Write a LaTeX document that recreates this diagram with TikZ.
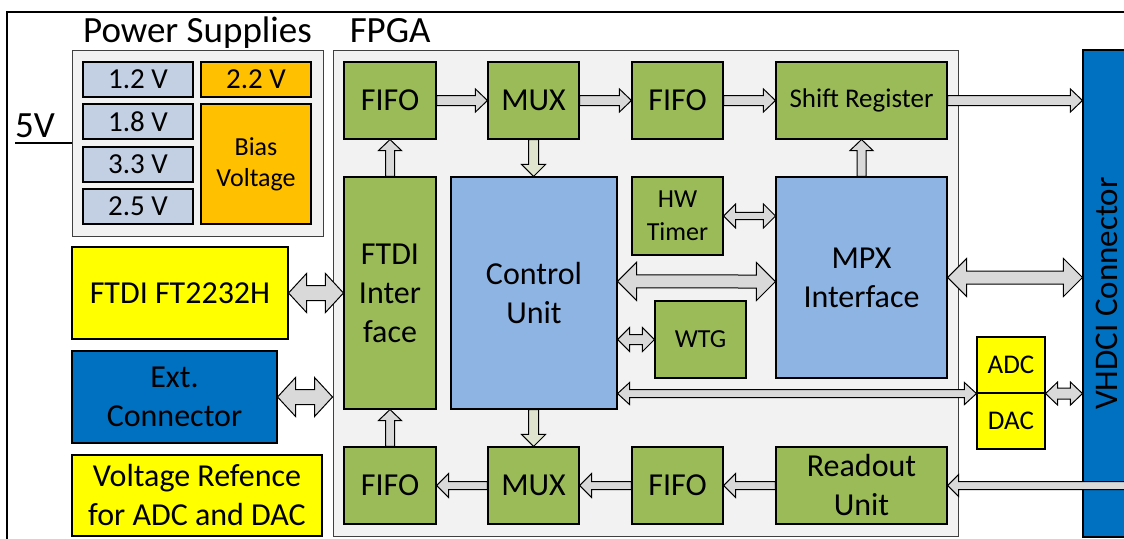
\documentclass[tikz,border=0pt]{standalone}
\usepackage{fontspec}
\setmainfont{Carlito}
\usetikzlibrary{calc}

\definecolor{logicgreen}{RGB}{155,187,89}
\definecolor{coreblue}{RGB}{142,180,227}
\definecolor{railblue}{RGB}{195,208,227}
\definecolor{biasorange}{RGB}{255,192,0}
\definecolor{chipyellow}{RGB}{255,255,0}
\definecolor{connblue}{RGB}{0,112,192}
\definecolor{groupgray}{RGB}{242,242,242}
\definecolor{busgray}{RGB}{217,217,217}
\definecolor{buspale}{RGB}{222,228,206}

% block arrow, one head:  [fill]{from}{to}{half shaft}{half head}{head length}
\newcommand{\onewaybus}[6][busgray]{%
  \coordinate (busA) at #2;
  \coordinate (busB) at #3;
  \coordinate (busC) at ($(busB)!#6pt!(busA)$);
  \filldraw[busline, fill=#1]
    ($(busA)!#4pt!90:(busB)$) -- ($(busC)!#4pt!-90:(busA)$)
    -- ($(busC)!#5pt!-90:(busA)$) -- (busB)
    -- ($(busC)!#5pt!90:(busA)$) -- ($(busC)!#4pt!90:(busA)$)
    -- ($(busA)!#4pt!-90:(busB)$) -- cycle;
}
% block arrow, heads at both ends
\newcommand{\twowaybus}[6][busgray]{%
  \coordinate (busA) at #2;
  \coordinate (busB) at #3;
  \coordinate (busC) at ($(busA)!#6pt!(busB)$);
  \coordinate (busD) at ($(busB)!#6pt!(busA)$);
  \filldraw[busline, fill=#1] (busA)
    -- ($(busC)!#5pt!90:(busB)$) -- ($(busC)!#4pt!90:(busB)$)
    -- ($(busD)!#4pt!-90:(busA)$) -- ($(busD)!#5pt!-90:(busA)$)
    -- (busB)
    -- ($(busD)!#5pt!90:(busA)$) -- ($(busD)!#4pt!90:(busA)$)
    -- ($(busC)!#4pt!-90:(busB)$) -- ($(busC)!#5pt!-90:(busB)$)
    -- cycle;
}

\begin{document}
\begin{tikzpicture}[x=1pt, y=-1pt,
    box/.style ={draw, line width=1.1pt, inner sep=0pt, align=center},
    logic/.style ={box, fill=logicgreen, font=\fontsize{32}{39}\selectfont},
    core/.style ={box, fill=coreblue, font=\fontsize{32}{39}\selectfont},
    rail/.style ={box, fill=railblue, minimum width=110pt, minimum height=35pt,
                  font=\fontsize{29}{34}\selectfont},
    group/.style ={draw=black!75, line width=0.9pt, fill=groupgray, inner sep=0pt},
    heading/.style ={inner sep=0pt, font=\fontsize{37}{42}\selectfont},
    busline/.style ={draw, line width=1pt, line join=miter}]
   \useasboundingbox (0,0) rectangle (1124,538);

   % board outline
   \draw[line width=1.2pt] (7,560) -- (7,12) -- (1140,12);

   % power supplies
   \node[group, minimum width=251pt, minimum height=186pt] (psu) at (197.5,143) {};
   \node[heading, anchor=base] (psutitle) at ([yshift=7pt]psu.north) {Power Supplies};
   \node[rail] (v12) at (138,79.5)  {1.2 V};
   \node[rail] (v18) at (138,121.5) {1.8 V};
   \node[rail] (v33) at (138,164.5) {3.3 V};
   \node[rail] (v25) at (138,206.5) {2.5 V};
   \node[rail, fill=biasorange] (v22) at (256,79.5) {2.2 V};
   \node[box, fill=biasorange, minimum width=110pt, minimum height=120pt,
         font=\fontsize{26}{31}\selectfont] (bias) at (256,164) {Bias\\Voltage};
   \node[heading, anchor=base west] (vin) at (15,137) {5V};
   \draw[line width=1.2pt] (vin.base west |- psu.west) -- (psu.west);

   % FPGA
   \node[group, minimum width=625pt, minimum height=486pt] (fpga) at (645.5,293) {};
   \node[heading, anchor=base west] (fpgatitle) at ([xshift=17pt,yshift=7pt]fpga.north west) {FPGA};

   \node[logic, minimum width=92pt, minimum height=77pt] (fifoA) at (390,100.5) {FIFO};
   \node[logic, minimum width=91pt, minimum height=77pt] (muxA) at (533.5,100.5) {MUX};
   \node[logic, minimum width=91pt, minimum height=77pt] (fifoB) at (677.5,100.5) {FIFO};
   \node[logic, minimum width=171pt, minimum height=77pt,
         font=\fontsize{27}{32}\selectfont] (shift) at (861.5,100.5) {Shift Register};

   \node[logic, minimum width=92pt, minimum height=232pt] (ftdi) at (390,293) {FTDI\\Inter\\face};
   \node[core, minimum width=166pt, minimum height=232pt] (ctrl) at (534,293) {Control\\Unit};
   \node[logic, minimum width=91pt, minimum height=78pt,
         font=\fontsize{26}{33}\selectfont] (timer) at (677.5,216) {HW\\Timer};
   \node[logic, minimum width=91pt, minimum height=77pt,
         font=\fontsize{26}{33}\selectfont] (wtg) at (700.5,339.5) {WTG};
   \node[core, minimum width=171pt, minimum height=201pt] (mpx) at (861.5,277.5) {MPX\\Interface};

   \node[logic, minimum width=92pt, minimum height=77pt] (fifoC) at (390,485.5) {FIFO};
   \node[logic, minimum width=91pt, minimum height=77pt] (muxB) at (533.5,485.5) {MUX};
   \node[logic, minimum width=91pt, minimum height=77pt] (fifoD) at (677.5,485.5) {FIFO};
   \node[logic, minimum width=171pt, minimum height=77pt] (readout) at (861.5,485.5) {Readout\\Unit};

   % converters and connectors
   \node[box, fill=chipyellow, minimum width=68pt, minimum height=56pt,
         font=\fontsize{27}{32}\selectfont] (adc) at (1011,365) {ADC};
   \node[box, fill=chipyellow, minimum width=68pt, minimum height=56pt,
         font=\fontsize{27}{32}\selectfont] (dac) at (1011,421) {DAC};
   \node[box, fill=connblue, rotate=90, minimum width=487pt, minimum height=47pt,
         font=\fontsize{33}{38}\selectfont] (vhdci) at (1106.5,293.5) {VHDCI Connector};

   \node[box, fill=chipyellow, minimum width=216pt, minimum height=92pt,
         font=\fontsize{32}{39}\selectfont] (usb) at (180,293) {FTDI FT2232H};
   \node[box, fill=connblue, minimum width=205pt, minimum height=92pt,
         font=\fontsize{32}{39}\selectfont] (ext) at (174.5,397) {Ext.\\Connector};
   \node[box, fill=chipyellow, minimum width=250pt, minimum height=81pt,
         font=\fontsize{32}{39}\selectfont] (vref) at (197,495.5) {Voltage Refence\\for ADC and DAC};

   % data path, upper row
   \onewaybus{(fifoA.east)}{(muxA.west)}{5}{11.5}{12}
   \onewaybus{(muxA.east)}{(fifoB.west)}{5}{11.5}{12}
   \onewaybus{(fifoB.east)}{(shift.west)}{5}{11.5}{12}
   \onewaybus{(shift.east)}{(shift.east -| vhdci.north)}{5}{11.5}{12}

   % data path, lower row
   \onewaybus{(readout.east -| vhdci.south)}{(readout.east)}{4}{11}{11}
   \onewaybus{(readout.west)}{(fifoD.east)}{4}{12}{12}
   \onewaybus{(fifoD.west)}{(muxB.east)}{4}{12}{12}
   \onewaybus{(muxB.west)}{(fifoC.east)}{4}{12}{12}

   % vertical links
   \onewaybus{(fifoC.north)}{(ftdi.south)}{4.5}{11.5}{11}
   \onewaybus{(ftdi.north)}{(fifoA.south)}{4.5}{11.5}{11}
   \onewaybus{(mpx.north)}{(shift.south)}{4.5}{11.5}{11}
   \onewaybus[buspale]{(muxA.south)}{(muxA.south |- ctrl.north)}{5}{12}{12}
   \onewaybus[buspale]{(muxB.north |- ctrl.south)}{(muxB.north)}{5}{12}{12}

   % two-way links
   \twowaybus{(usb.east)}{(ftdi.west)}{7.5}{19.5}{18}
   \twowaybus{(ext.east)}{(ext.east -| fpga.west)}{7.5}{19.5}{18}
   \twowaybus{($(ctrl.north east)!.45!(ctrl.south east)$)}{($(mpx.north west)!.52!(mpx.south west)$)}{6.5}{19}{19}
   \twowaybus{(mpx.east)}{(mpx.east -| vhdci.north)}{6.5}{19}{19}
   \twowaybus{(timer.east)}{(timer.east -| mpx.west)}{3.7}{12}{12}
   \twowaybus{(wtg.west -| ctrl.east)}{(wtg.west)}{5}{12}{12}
   \twowaybus{(adc.south west -| ctrl.east)}{(adc.south west)}{4}{11}{12}
   \twowaybus{(adc.south east)}{(adc.south east -| vhdci.north)}{5.5}{11.5}{12}
\end{tikzpicture}
\end{document}
